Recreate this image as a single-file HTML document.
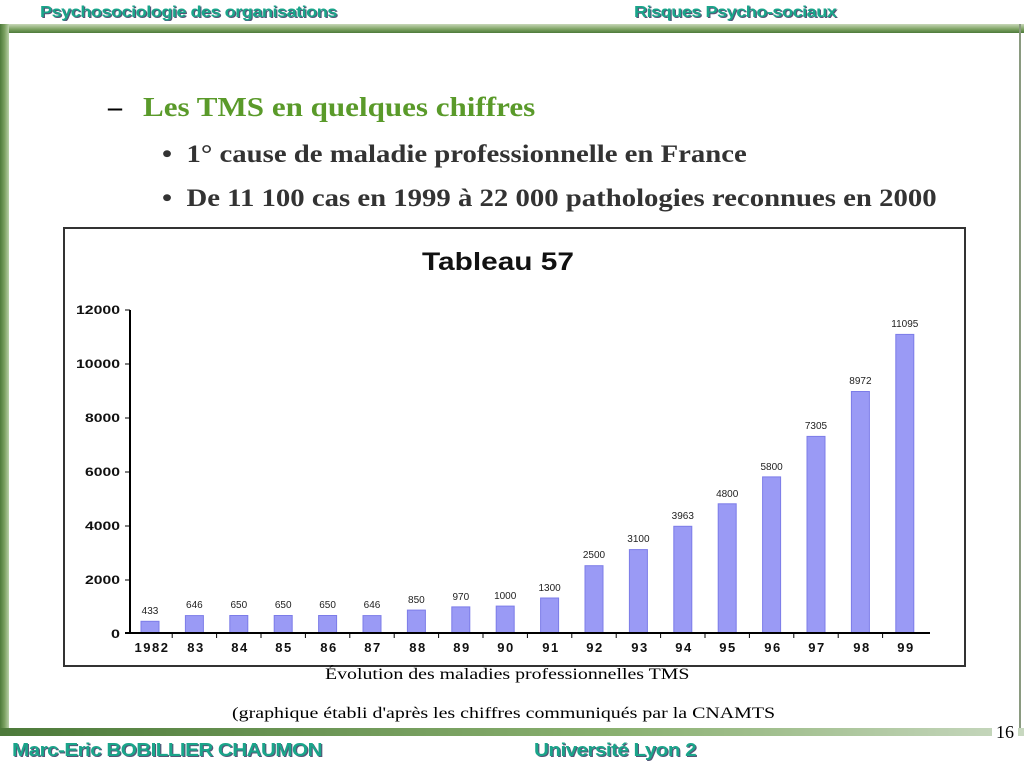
<!DOCTYPE html>
<html><head><meta charset="utf-8"><style>
body{margin:0;width:1024px;height:768px;background:#fff;position:relative;overflow:hidden;font-family:"Liberation Serif",serif}
.hdr{position:absolute;font-family:"Liberation Sans",sans-serif;font-weight:bold;color:#1aa58a;text-shadow:1px 1px 0 #557;letter-spacing:-0.5px;transform-origin:0 0;white-space:nowrap}
.t{position:absolute;transform-origin:0 0;white-space:nowrap}
</style></head><body>
<div class="hdr" style="left:40px;top:4px;font-size:16px;transform:scaleX(1.14)">Psychosociologie des organisations</div>
<div class="hdr" style="left:634px;top:4px;font-size:16px;transform:scaleX(1.14)">Risques Psycho-sociaux</div>
<div style="position:absolute;left:0;top:24px;width:1024px;height:9px;background:linear-gradient(#c8d8b8,#7aa060 60%,#4d7a3a)"></div>
<div style="position:absolute;left:0;top:24px;width:9px;height:712px;background:linear-gradient(90deg,#4d7a3a,#7aa060,#b8d0a8)"></div>
<div style="position:absolute;left:1019px;top:24px;width:2px;height:712px;background:#8a9a80"></div>
<div style="position:absolute;left:0;top:728px;width:1024px;height:8px;background:linear-gradient(90deg,#4d7a3a,#8ab070 60%,#c8d8c0)"></div>
<div style="position:absolute;left:992px;top:722px;font-size:18px;background:#fff;padding:0 4px">16</div>
<div class="hdr" style="left:12px;top:740px;font-size:18px;transform:scaleX(1.15)">Marc-Eric BOBILLIER CHAUMON</div>
<div class="hdr" style="left:534px;top:740px;font-size:18px;transform:scaleX(1.15)">Université Lyon 2</div>

<div class="t" style="left:108px;top:92px;font-size:28px;font-weight:bold">–</div>
<div class="t" style="left:143px;top:92px;font-size:27px;font-weight:bold;color:#5a9a2a;transform:scaleX(1.15)">Les TMS en quelques chiffres</div>
<div class="t" style="left:162px;top:141px;font-size:25px;font-weight:bold;color:#333;transform:scaleX(1.15)">• &nbsp;1° cause de maladie professionnelle en France</div>
<div class="t" style="left:162px;top:185px;font-size:25px;font-weight:bold;color:#333;transform:scaleX(1.15)">• &nbsp;De 11 100 cas en 1999 à 22 000 pathologies reconnues en 2000</div>

<svg style="position:absolute;left:0;top:0" width="1024" height="768" font-family="Liberation Sans, sans-serif">
<rect x="64" y="228" width="901" height="438" fill="#fff" stroke="#333" stroke-width="2"/>
<text x="422" y="270" font-size="25" font-weight="bold" fill="#111" textLength="152" lengthAdjust="spacingAndGlyphs">Tableau 57</text>
<g fill="#9a9af5" stroke="#7c7ce8">
<rect x="141" y="621.3" width="18" height="11.7"/>
<rect x="185.4" y="615.6" width="18" height="17.4"/>
<rect x="229.8" y="615.5" width="18" height="17.5"/>
<rect x="274.2" y="615.5" width="18" height="17.5"/>
<rect x="318.6" y="615.5" width="18" height="17.5"/>
<rect x="363" y="615.6" width="18" height="17.4"/>
<rect x="407.4" y="610.1" width="18" height="22.9"/>
<rect x="451.8" y="606.9" width="18" height="26.1"/>
<rect x="496.2" y="606.1" width="18" height="26.9"/>
<rect x="540.6" y="598" width="18" height="35"/>
<rect x="585" y="565.7" width="18" height="67.3"/>
<rect x="629.4" y="549.6" width="18" height="83.4"/>
<rect x="673.8" y="526.3" width="18" height="106.7"/>
<rect x="718.2" y="503.8" width="18" height="129.2"/>
<rect x="762.6" y="476.9" width="18" height="156.1"/>
<rect x="807" y="436.4" width="18" height="196.6"/>
<rect x="851.4" y="391.5" width="18" height="241.5"/>
<rect x="895.8" y="334.4" width="18" height="298.6"/>
</g>
<g font-size="10" text-anchor="middle" fill="#222">
<text x="150" y="614">433</text><text x="194.4" y="608">646</text><text x="238.8" y="608">650</text>
<text x="283.2" y="608">650</text><text x="327.6" y="608">650</text><text x="372" y="608">646</text>
<text x="416.4" y="603">850</text><text x="460.8" y="600">970</text><text x="505.2" y="599">1000</text>
<text x="549.6" y="591">1300</text><text x="594" y="558">2500</text><text x="638.4" y="542">3100</text>
<text x="682.8" y="519">3963</text><text x="727.2" y="497">4800</text><text x="771.6" y="470">5800</text>
<text x="816" y="429">7305</text><text x="860.4" y="384">8972</text><text x="904.8" y="327">11095</text>
</g>
<g font-size="13" font-weight="bold" text-anchor="middle" fill="#111" letter-spacing="1.5">
<text x="152" y="652">1982</text><text x="196" y="652">83</text><text x="240" y="652">84</text>
<text x="284" y="652">85</text><text x="329" y="652">86</text><text x="373" y="652">87</text>
<text x="418" y="652">88</text><text x="462" y="652">89</text><text x="506" y="652">90</text>
<text x="551" y="652">91</text><text x="595" y="652">92</text><text x="640" y="652">93</text>
<text x="684" y="652">94</text><text x="728" y="652">95</text><text x="773" y="652">96</text>
<text x="817" y="652">97</text><text x="862" y="652">98</text><text x="906" y="652">99</text>
</g>
<line x1="130" y1="310" x2="130" y2="633" stroke="#000" stroke-width="2"/>
<line x1="125" y1="633" x2="930" y2="633" stroke="#000" stroke-width="2"/>
<g font-size="12" font-weight="bold" fill="#111">
<text x="76" y="314" textLength="44" lengthAdjust="spacingAndGlyphs">12000</text><text x="76" y="368" textLength="44" lengthAdjust="spacingAndGlyphs">10000</text>
<text x="85" y="422" textLength="35" lengthAdjust="spacingAndGlyphs">8000</text><text x="85" y="476" textLength="35" lengthAdjust="spacingAndGlyphs">6000</text>
<text x="85" y="530" textLength="35" lengthAdjust="spacingAndGlyphs">4000</text><text x="85" y="584" textLength="35" lengthAdjust="spacingAndGlyphs">2000</text>
<text x="111" y="638" textLength="9" lengthAdjust="spacingAndGlyphs">0</text>
</g>
<g stroke="#000"><line x1="125" y1="310" x2="130" y2="310"/><line x1="125" y1="364" x2="130" y2="364"/><line x1="125" y1="418" x2="130" y2="418"/><line x1="125" y1="472" x2="130" y2="472"/><line x1="125" y1="526" x2="130" y2="526"/><line x1="125" y1="580" x2="130" y2="580"/>
<line x1="172.2" y1="633" x2="172.2" y2="638"/><line x1="216.6" y1="633" x2="216.6" y2="638"/><line x1="261" y1="633" x2="261" y2="638"/><line x1="305.4" y1="633" x2="305.4" y2="638"/><line x1="349.8" y1="633" x2="349.8" y2="638"/><line x1="394.2" y1="633" x2="394.2" y2="638"/><line x1="438.6" y1="633" x2="438.6" y2="638"/><line x1="483" y1="633" x2="483" y2="638"/><line x1="527.4" y1="633" x2="527.4" y2="638"/><line x1="571.8" y1="633" x2="571.8" y2="638"/><line x1="616.2" y1="633" x2="616.2" y2="638"/><line x1="660.6" y1="633" x2="660.6" y2="638"/><line x1="705" y1="633" x2="705" y2="638"/><line x1="749.4" y1="633" x2="749.4" y2="638"/><line x1="793.8" y1="633" x2="793.8" y2="638"/><line x1="838.2" y1="633" x2="838.2" y2="638"/><line x1="882.6" y1="633" x2="882.6" y2="638"/></g>
</svg>
<div class="t" style="left:325px;top:666px;font-size:16px;transform:scaleX(1.24)">Évolution des maladies professionnelles TMS</div>
<div class="t" style="left:232px;top:705px;font-size:16px;transform:scaleX(1.245)">(graphique établi d'après les chiffres communiqués par la CNAMTS</div>
</body></html>
